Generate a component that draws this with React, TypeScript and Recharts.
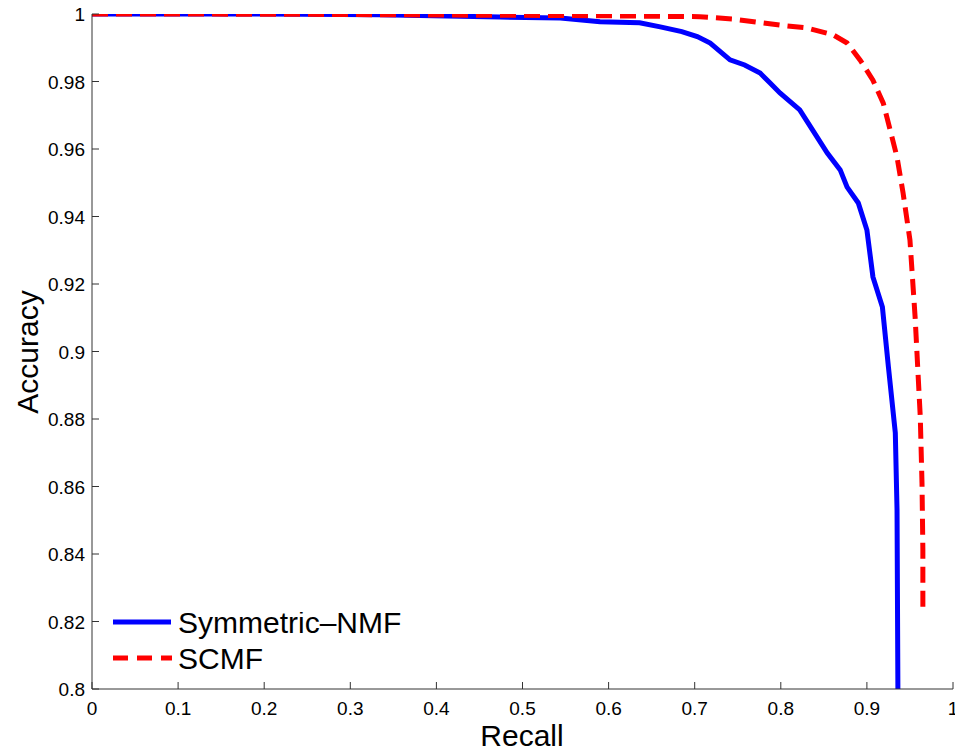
import { LineChart, Line, XAxis, YAxis } from "recharts"

// Symmetric-NMF precision/recall curve (recall, accuracy)
const nmfRecall = [0, 0.1, 0.2, 0.334, 0.474, 0.544, 0.59, 0.636, 0.66, 0.685, 0.703, 0.718, 0.741, 0.758, 0.776, 0.787, 0.799, 0.822, 0.837, 0.854, 0.869, 0.877, 0.89, 0.9, 0.907, 0.918, 0.925, 0.933, 0.935, 0.936]
const nmfAccuracy = [1, 1, 1, 0.9998, 0.9991, 0.9988, 0.9977, 0.9974, 0.9962, 0.9948, 0.9933, 0.9914, 0.9864, 0.9849, 0.9825, 0.9797, 0.9766, 0.9716, 0.9656, 0.9588, 0.9538, 0.9487, 0.944, 0.936, 0.9221, 0.9132, 0.8954, 0.8759, 0.853, 0.8]

// SCMF curve
const scmfRecall = [0, 0.1, 0.242, 0.4, 0.59, 0.706, 0.744, 0.799, 0.83, 0.861, 0.877, 0.892, 0.907, 0.919, 0.927, 0.935, 0.942, 0.95, 0.956, 0.959, 0.962, 0.964, 0.965, 0.965]
const scmfAccuracy = [1, 1, 0.9999, 0.9997, 0.9995, 0.9992, 0.9985, 0.9967, 0.9959, 0.9938, 0.9914, 0.9864, 0.9804, 0.9736, 0.9656, 0.9576, 0.947, 0.933, 0.9102, 0.8954, 0.8806, 0.861, 0.8412, 0.8234]

const xTicks = [0, 0.1, 0.2, 0.3, 0.4, 0.5, 0.6, 0.7, 0.8, 0.9, 1]
const yTicks = [0.8, 0.82, 0.84, 0.86, 0.88, 0.9, 0.92, 0.94, 0.96, 0.98, 1]

const nmfData = nmfRecall.map((r, i) => ({ recall: r, acc: nmfAccuracy[i] }))
const scmfData = scmfRecall.map((r, i) => ({ recall: r, acc: scmfAccuracy[i] }))

const FONT = "'Liberation Sans', Arial, sans-serif"
const fmt = (v: number) => String(Math.round(v * 100) / 100)

const XTick = (props: any) => {
  const { x, y, payload } = props
  return (
    <g>
      <line x1={x} x2={x} y1={y - 12} y2={y - 19} stroke="#333" strokeWidth={1} />
      <text x={x} y={y} dy={14} textAnchor="middle" fontSize={19} fontFamily={FONT} fill="#000">
        {fmt(payload.value)}
      </text>
    </g>
  )
}

const YTick = (props: any) => {
  const { x, y, payload } = props
  return (
    <g>
      <line x1={x + 7} x2={x + 14} y1={y} y2={y} stroke="#333" strokeWidth={1} />
      <text x={x} y={y} dy={7} textAnchor="end" fontSize={19} fontFamily={FONT} fill="#000">
        {fmt(payload.value)}
      </text>
    </g>
  )
}

const LegendBox = () => (
  <svg width={340} height={80} style={{ position: "absolute", left: 113, top: 612 }}>
    <line x1={0} x2={58} y1={10} y2={10} stroke="#0000ff" strokeWidth={5} />
    <text x={65} y={21} fontSize={30} fontFamily={FONT} fill="#000">Symmetric–NMF</text>
    <line x1={0} x2={59} y1={46} y2={46} stroke="#ff0000" strokeWidth={5} strokeDasharray="15 9" />
    <text x={65} y={57} fontSize={30} fontFamily={FONT} fill="#000">SCMF</text>
  </svg>
)

export default function App() {
  return (
    <div style={{ position: "absolute", left: 0, top: 0, width: 955, height: 752, background: "#fff" }}>
      <LineChart width={955} height={752} margin={{ top: 14, right: 2, left: 0, bottom: 0 }}>
        <XAxis
          type="number"
          dataKey="recall"
          domain={[0, 1]}
          ticks={xTicks}
          interval={0}
          allowDataOverflow
          height={63}
          tickSize={0}
          tickMargin={12}
          tick={<XTick />}
          axisLine={{ stroke: "#333", strokeWidth: 1 }}
          label={{
            content: () => (
              <text x={522} y={746} textAnchor="middle" fontSize={30} fontFamily={FONT} fill="#000">
                Recall
              </text>
            ),
          }}
        />
        <YAxis
          type="number"
          dataKey="acc"
          domain={[0.8, 1]}
          ticks={yTicks}
          interval={0}
          allowDataOverflow
          width={92}
          tickSize={0}
          tickMargin={7}
          tick={<YTick />}
          axisLine={{ stroke: "#333", strokeWidth: 1 }}
          label={{
            content: () => (
              <text x={38} y={352} transform="rotate(-90 38 352)" textAnchor="middle" fontSize={30} fontFamily={FONT} fill="#000">
                Accuracy
              </text>
            ),
          }}
        />
        <Line
          data={nmfData}
          dataKey="acc"
          type="linear"
          stroke="#0000ff"
          strokeWidth={5}
          dot={false}
          isAnimationActive={false}
        />
        <Line
          data={scmfData}
          dataKey="acc"
          type="linear"
          stroke="#ff0000"
          strokeWidth={5}
          strokeDasharray="16 8"
          dot={false}
          isAnimationActive={false}
        />
      </LineChart>
      <LegendBox />
    </div>
  )
}
